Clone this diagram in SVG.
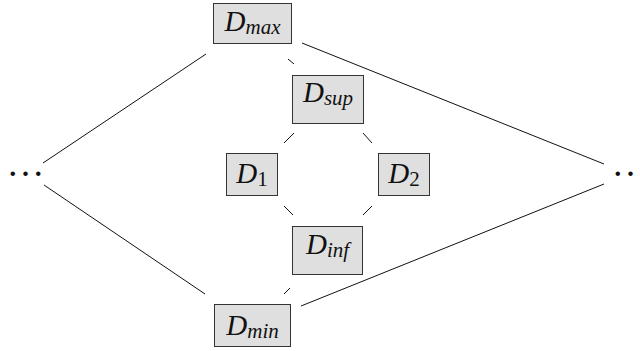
<svg xmlns="http://www.w3.org/2000/svg" width="640" height="351" viewBox="0 0 640 351">
<style>
.box{fill:#dfdfdf;stroke:#333;stroke-width:1}
.lbl{font-family:"Liberation Serif",serif;font-style:italic;font-size:29px;fill:#111;text-anchor:middle}
.sub{font-size:21px}
.num{font-style:normal;font-size:21px}
.dots{font-family:"Liberation Serif",serif;font-size:38px;fill:#111;text-anchor:middle}
.edges line{stroke:#111;stroke-width:1;fill:none}
</style>
<rect width="640" height="351" fill="#fff"/>
<g class="edges" id="connectors">
<line x1="43" y1="163" x2="206" y2="54"/>
<line x1="44" y1="185" x2="205" y2="294"/>
<line x1="302" y1="43" x2="604" y2="164"/>
<line x1="301" y1="306" x2="604" y2="184"/>
<line x1="288" y1="59" x2="294" y2="64"/>
<line x1="284" y1="143" x2="294" y2="133"/>
<line x1="363" y1="133" x2="372" y2="143"/>
<line x1="284" y1="206" x2="293" y2="215"/>
<line x1="363" y1="215" x2="372" y2="206"/>
<line x1="284" y1="294" x2="290" y2="288"/>
</g>
<g id="left"><text class="dots" x="25.5" y="176">…</text></g>
<g id="right"><text class="dots" x="630.5" y="176">…</text></g>
<g id="Dmax"><rect class="box" x="213.5" y="3.5" width="78" height="40"/><text class="lbl" x="252.5" y="31">D<tspan class="sub" dy="3">max</tspan></text></g>
<g id="Dsup"><rect class="box" x="292.5" y="75.5" width="71" height="48"/><text class="lbl" x="328" y="102">D<tspan class="sub" dy="3">sup</tspan></text></g>
<g id="D1"><rect class="box" x="226.5" y="153.5" width="51" height="42"/><text class="lbl" x="252" y="183">D<tspan class="num" dy="3">1</tspan></text></g>
<g id="D2"><rect class="box" x="378.5" y="153.5" width="51" height="42"/><text class="lbl" x="404" y="183">D<tspan class="num" dy="3">2</tspan></text></g>
<g id="Dinf"><rect class="box" x="292.5" y="226.5" width="70" height="48"/><text class="lbl" x="327.5" y="254">D<tspan class="sub" dy="3">inf</tspan></text></g>
<g id="Dmin"><rect class="box" x="214.5" y="304.5" width="76" height="42"/><text class="lbl" x="252.5" y="335">D<tspan class="sub" dy="3">min</tspan></text></g>
</svg>
